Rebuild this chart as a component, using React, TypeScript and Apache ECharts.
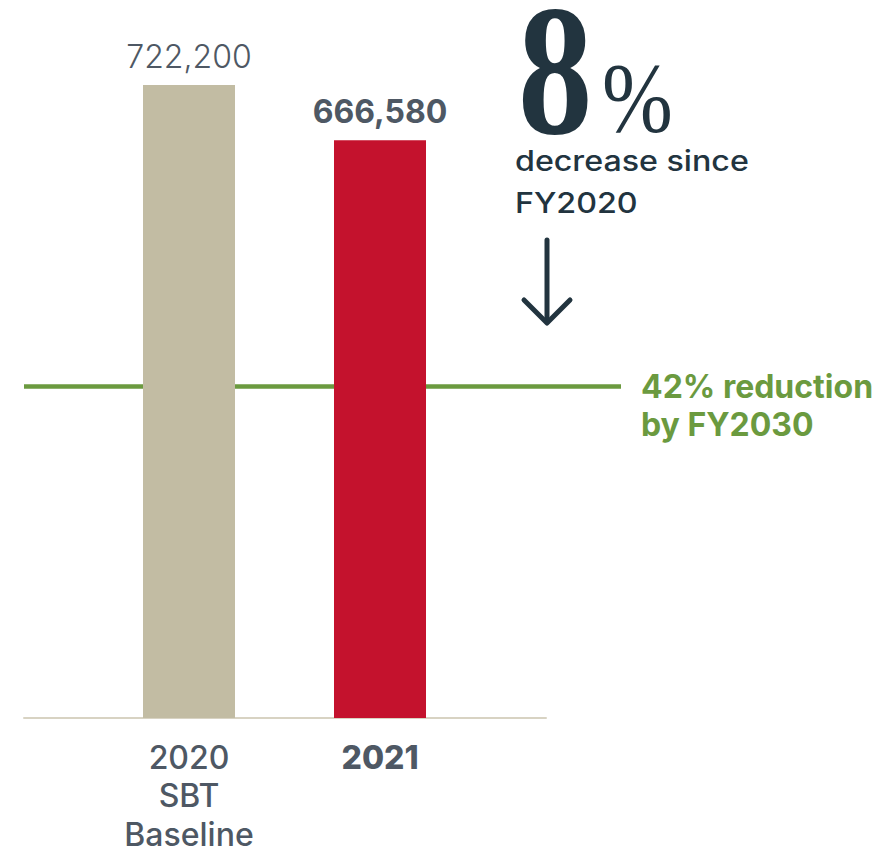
import React, { useEffect, useRef } from "react";
import * as echarts from "echarts";

const categories = ["2020\nSBT\nBaseline", "2021"];
const categoryWeights = [500, 800];
const values = [722200, 666580];
const barColors = ["#c2bca3", "#c4122d"];
const valueLabelWeights = [300, 700];
const targetReduction = 0.42;
const targetYear = "FY2030";
const baseYear = "FY2020";
const axisMin = 85000;

const targetValue = values[0] * (1 - targetReduction);
const decreasePct = Math.round(((values[0] - values[1]) / values[0]) * 100);

const DARK = "#22343f";
const GRAY = "#4e5864";
const GREEN = "#6b9a3f";
const SANS = "Inter";

export default function App() {
  const ref = useRef<HTMLDivElement>(null);
  useEffect(() => {
    if (!ref.current) return;
    const chart = echarts.init(ref.current, undefined, { renderer: "svg" });
    const top = 85;
    const bottom = 137;
    const yHidden = (i: number) => ({
      type: "value",
      gridIndex: i,
      min: axisMin,
      max: values[0],
      startValue: axisMin,
      show: false,
    });
    const gridBase = { top, bottom, containLabel: false, outerBoundsMode: "none" };
    chart.setOption({
      animation: false,
      grid: [
        { ...gridBase, left: 93.5, right: 408.5 },
        { ...gridBase, left: 24, right: 338 },
        { ...gridBase, left: 24, right: 263 },
      ],
      xAxis: [
        {
          type: "category",
          gridIndex: 0,
          data: categories.map((c, i) => ({
            value: c,
            textStyle: { fontWeight: categoryWeights[i] },
          })),
          axisLine: { show: false },
          axisTick: { show: false },
          axisLabel: {
            color: GRAY,
            fontFamily: SANS,
            fontSize: 32,
            lineHeight: 38.5,
            margin: 20,
            verticalAlign: "top",
          },
        },
        {
          type: "category",
          gridIndex: 1,
          data: [""],
          axisLine: { show: true, lineStyle: { color: "#d8d3c3", width: 2 } },
          axisTick: { show: false },
          axisLabel: { show: false },
        },
        {
          type: "value",
          gridIndex: 2,
          min: 0,
          max: 1,
          show: false,
        },
      ],
      yAxis: [yHidden(0), yHidden(1), yHidden(2)],
      graphic: [
        {
          type: "text",
          x: 518,
          y: 70,
          scaleX: 0.8,
          style: {
            text: String(decreasePct),
            fontFamily: "Liberation Serif",
            fontWeight: "bold",
            fontSize: 186,
            lineHeight: 120,
            fill: DARK,
            align: "left",
            verticalAlign: "middle",
          },
        },
        {
          type: "text",
          x: 602,
          y: 97,
          scaleX: 0.85,
          style: {
            text: "%",
            fontFamily: "Liberation Serif",
            fontSize: 100,
            lineHeight: 80,
            fill: DARK,
            align: "left",
            verticalAlign: "middle",
          },
        },
        {
          type: "text",
          x: 515,
          y: 161,
          scaleX: 1.15,
          style: {
            text: "decrease since",
            fontFamily: SANS,
            fontWeight: 500,
            fontSize: 28,
            fill: DARK,
            align: "left",
            verticalAlign: "middle",
          },
        },
        {
          type: "text",
          x: 515,
          y: 203,
          scaleX: 1.15,
          style: {
            text: baseYear,
            fontFamily: SANS,
            fontWeight: 500,
            fontSize: 28,
            fill: DARK,
            align: "left",
            verticalAlign: "middle",
          },
        },
        {
          type: "line",
          shape: { x1: 547, y1: 240, x2: 547, y2: 322 },
          style: { stroke: DARK, lineWidth: 5, lineCap: "round" },
        },
        {
          type: "polyline",
          shape: { points: [[524, 300], [547, 323], [570, 300]] },
          style: { stroke: DARK, lineWidth: 5, lineCap: "round", lineJoin: "round", fill: null },
        },
      ],
      series: [
        {
          type: "bar",
          xAxisIndex: 0,
          yAxisIndex: 0,
          barWidth: 92,
          z: 3,
          data: values.map((v, i) => ({
            value: v,
            itemStyle: { color: barColors[i] },
            label: {
              show: true,
              position: "top",
              distance: 13,
              formatter: v.toLocaleString("en-US"),
              fontFamily: SANS,
              fontSize: 32,
              fontWeight: valueLabelWeights[i],
              color: GRAY,
            },
          })),
        },
        {
          type: "line",
          xAxisIndex: 2,
          yAxisIndex: 2,
          z: 1,
          showSymbol: false,
          data: [[0, targetValue]],
          markLine: {
            silent: true,
            z: 1,
            symbol: ["none", "none"],
            lineStyle: { color: GREEN, width: 4.5, type: "solid" },
            label: {
              show: true,
              position: "end",
              distance: 20,
              formatter: `\n${Math.round(targetReduction * 100)}% reduction\nby ${targetYear}`,
              color: GREEN,
              fontFamily: SANS,
              fontWeight: 700,
              fontSize: 32,
              lineHeight: 38,
            },
            data: [{ yAxis: targetValue }],
          },
        },
      ],
    });
    return () => chart.dispose();
  }, []);
  return (
    <div
      ref={ref}
      style={{ position: "fixed", left: 0, top: 0, width: 884, height: 855, background: "#fff" }}
    />
  );
}
